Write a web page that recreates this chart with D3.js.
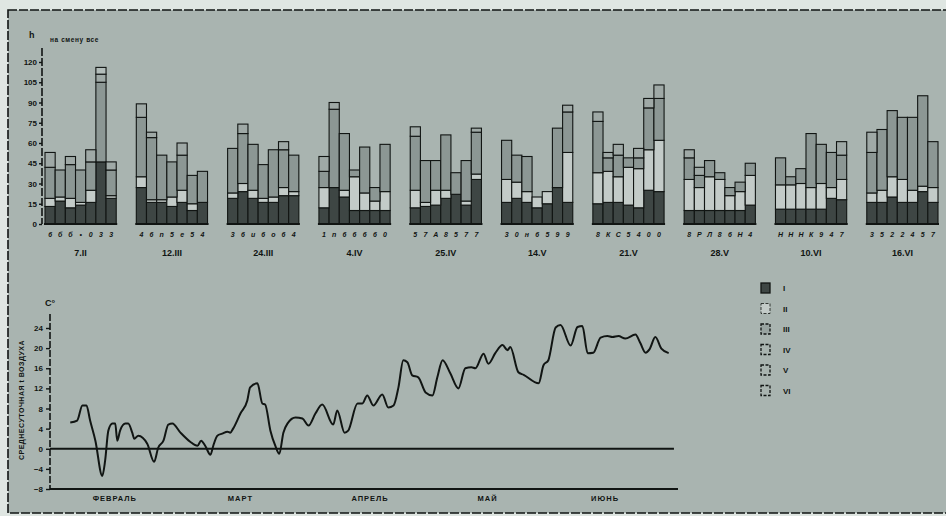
<!DOCTYPE html>
<html>
<head>
<meta charset="utf-8">
<script src="https://cdn.jsdelivr.net/npm/d3@7"></script>
<style>
  html, body { margin: 0; padding: 0; background: #dfe6e2; }
  svg { display: block; font-family: "Liberation Sans", "DejaVu Sans", sans-serif; }
</style>
</head>
<body>
<svg id="chart" width="946" height="516"></svg>
<script>
// Survey dates (one group of seven bars each)
const groups = ["7.II", "12.III", "24.III", "4.IV", "25.IV", "14.V", "21.V", "28.V", "10.VI", "16.VI"];
// Bar markers printed under each group
const barMarks = [
  ["6","б","б","•","0","3","3"],
  ["4","6","n","5","e","5","4"],
  ["3","6","u","6","o","6","4"],
  ["1","n","6","6","6","6","0"],
  ["5","7","А","8","5","7","7"],
  ["3","0","н","6","5","9","9"],
  ["8","К","С","5","4","0","0"],
  ["8","Р","Л","8","6","Н","4"],
  ["Н","Н","Н","К","9","4","7"],
  ["3","5","2","2","4","5","7"]
];
// Stacked components per bar, by group
const seriesI = [
  [13,17,12,14,16,46,19],[27,16,16,13,16,10,16],[19,24,19,16,16,21,21],[12,27,20,10,10,10,10],
  [12,13,14,19,22,14,33],[16,19,16,12,15,27,16],[15,16,16,14,12,25,24],[10,10,10,10,10,10,14],
  [11,11,11,11,11,19,18],[16,16,20,16,16,24,16]
];
const seriesII = [
  [6,3,7,2,9,0,2],[8,2,2,7,9,5,0],[4,6,6,3,4,6,3],[15,0,5,25,13,7,14],
  [13,3,11,6,0,3,4],[17,12,8,8,9,0,37],[23,23,19,28,29,30,38],[23,17,25,23,11,14,22],
  [18,18,19,16,19,8,15],[7,9,15,17,9,4,11]
];
const seriesIII = [
  [23,20,25,24,21,59,19],[44,46,33,26,26,21,23],[33,37,34,25,35,28,27],[12,58,42,5,34,10,35],
  [40,31,22,41,16,30,31],[29,20,26,0,0,44,30],[38,10,16,7,8,31,31],[16,9,12,5,6,7,9],
  [20,6,11,40,29,26,18],[30,45,49,46,54,67,34]
];
const seriesIV = [
  [11,0,6,0,9,6,6],[10,4,0,0,9,0,0],[0,7,0,0,0,6,0],[11,5,0,0,0,0,0],
  [7,0,0,0,0,0,3],[0,0,0,0,0,0,5],[7,4,8,0,7,7,10],[6,6,0,0,0,0,0],
  [0,0,0,0,0,0,10],[15,0,0,0,0,0,0]
];
const seriesV = [
  [0,0,0,0,0,5,0],[0,0,0,0,0,0,0],[0,0,0,0,0,0,0],[0,0,0,0,0,0,0],
  [0,0,0,0,0,0,0],[0,0,0,0,0,0,0],[0,0,0,0,0,0,0],[0,0,0,0,0,0,0],
  [0,0,0,0,0,0,0],[0,0,0,0,0,0,0]
];
const seriesVI = [
  [0,0,0,0,0,0,0],[0,0,0,0,0,0,0],[0,0,0,0,0,0,0],[0,0,0,0,0,0,0],
  [0,0,0,0,0,0,0],[0,0,0,0,0,0,0],[0,0,0,0,0,0,0],[0,0,0,0,0,0,0],
  [0,0,0,0,0,0,0],[0,0,0,0,0,0,0]
];
const seriesKeys = ["I", "II", "III", "IV", "V", "VI"];
const barTicks = [0, 15, 30, 45, 60, 75, 90, 105, 120];

// Daily mean air temperature, day 0 = 1 February
const tempDays = [0,1.7,3,4,4.9,6.2,7.9,8.6,9.4,10.4,11.1,11.6,12.3,13.6,14.3,15.3,15.8,16.8,19,20.7,21.7,23,24.2,25.2,27.2,29.6,31.4,32.3,33.3,34.6,35.3,36.3,37.5,38.8,39.5,40.2,42,43.7,44.4,46.2,47.4,48.1,49.4,50.6,51.6,52.6,53.6,55.6,57.3,58.8,60.5,62.2,64.9,65.9,67.7,68.6,70.9,72.1,73.3,74.8,77,78.5,79.8,81,82.2,83.2,84.4,85.9,87.7,89.4,90.6,91.9,93.8,95.8,97.5,99,100,102,103.2,104.9,106.7,107.9,108.6,110.6,111.9,115.6,116.8,118,119.8,121,123.5,125.2,126.4,127.7,129.1,130.9,132.6,133.8,135.3,137,139.5,140.7,142,143,144.4,145.9,147.7];
const tempValues = [5.2,5.6,8.6,8.6,5.6,1.6,-5.4,-2.4,3.6,5.0,5.0,1.6,3.6,5.0,5.0,3.2,2.0,2.6,1.0,-2.6,0.2,1.6,4.8,5.0,3.2,1.4,0.6,1.6,0.6,-1.2,0.6,2.6,3.0,3.4,3.2,4.0,7.0,9.6,12.2,13.0,9.0,8.8,3.6,0.6,-1.0,3.2,5.0,6.2,6.0,4.6,7.0,8.8,4.8,7.6,3.2,3.6,9.0,9.0,10.6,8.6,10.8,8.2,8.6,12.2,17.6,17.2,14.6,14.2,11.2,10.6,14.2,17.6,15.0,12.0,16.0,16.2,16.0,18.9,16.9,19.0,20.6,19.6,20.2,15.2,14.7,13.0,16.6,17.6,24.1,24.6,20.5,24.2,24.4,19.0,19.1,22.1,22.4,22.2,22.4,21.9,22.7,21.0,19.1,19.8,22.2,19.9,19.0];
const tempTicks = [-8, -4, 0, 4, 8, 12, 16, 20, 24];
const months = ["ФЕВРАЛЬ", "МАРТ", "АПРЕЛЬ", "МАЙ", "ИЮНЬ"];
const monthMidDays = [11, 42, 74, 103, 132];

const colors = { I: "#3e4644", II: "#c3cbc8", III: "#8c9794", IV: "#9fa9a6", V: "#b3bdba", VI: "#cbd2cf" };
const ink = "#111513";

const svg = d3.select("#chart");

// paper and framed panel
svg.append("rect").attr("x", 0).attr("y", 0).attr("width", 946).attr("height", 516).attr("fill", "#dfe6e2");
svg.append("rect").attr("x", 8).attr("y", 10).attr("width", 942).attr("height", 503)
  .attr("fill", "#a9b4b0").attr("stroke", ink).attr("stroke-width", 1.6).attr("stroke-dasharray", "9,2");

// ---------- stacked bar groups ----------
const rows = [];
groups.forEach((g, gi) => {
  for (let b = 0; b < 7; b++) {
    rows.push({
      group: g, bar: b, mark: barMarks[gi][b],
      I: seriesI[gi][b], II: seriesII[gi][b], III: seriesIII[gi][b],
      IV: seriesIV[gi][b], V: seriesV[gi][b], VI: seriesVI[gi][b]
    });
  }
});

const xGroup = d3.scaleBand().domain(groups).range([45, 938]).paddingInner(0.22).paddingOuter(0);
const xBar = d3.scaleBand().domain(d3.range(7)).range([0, xGroup.bandwidth()]).padding(0);
const yBar = d3.scaleLinear().domain([0, 120]).range([224, 62]);

const stacked = d3.stack().keys(seriesKeys)(rows);

const barLayer = svg.append("g");
stacked.forEach(layer => {
  barLayer.append("g").selectAll("rect")
    .data(layer.filter(d => d[1] > d[0]))
    .join("rect")
    .attr("x", d => xGroup(d.data.group) + xBar(d.data.bar))
    .attr("width", xBar.bandwidth())
    .attr("y", d => yBar(d[1]))
    .attr("height", d => yBar(d[0]) - yBar(d[1]))
    .attr("fill", colors[layer.key])
    .attr("stroke", ink)
    .attr("stroke-width", 1.1);
});

// group baselines, markers and dates
groups.forEach(g => {
  const x0 = xGroup(g);
  svg.append("line").attr("x1", x0 - 1).attr("x2", x0 + xGroup.bandwidth() + 1)
    .attr("y1", yBar(0)).attr("y2", yBar(0)).attr("stroke", ink).attr("stroke-width", 2.2);
  svg.append("text").attr("x", x0 + xGroup.bandwidth() / 2).attr("y", 256)
    .attr("text-anchor", "middle").attr("font-size", 9).attr("font-weight", "bold")
    .attr("fill", ink).text(g);
});
svg.append("g").selectAll("text").data(rows).join("text")
  .attr("x", d => xGroup(d.group) + xBar(d.bar) + xBar.bandwidth() / 2)
  .attr("y", 237)
  .attr("text-anchor", "middle").attr("font-size", 7).attr("font-weight", "bold")
  .attr("font-style", "italic").attr("fill", ink)
  .text(d => d.mark);

// bar value axis
const barAxis = d3.axisLeft(yBar).tickValues(barTicks).tickSize(3).tickPadding(2);
const gBarAxis = svg.append("g").attr("transform", "translate(42,0)").call(barAxis);
gBarAxis.select(".domain").remove();
gBarAxis.selectAll("line").attr("stroke", ink).attr("stroke-width", 1.4);
gBarAxis.selectAll("text").attr("font-size", 8).attr("font-weight", "bold").attr("fill", ink)
  .attr("font-family", "Liberation Sans, sans-serif");
svg.append("line").attr("x1", 42).attr("x2", 42).attr("y1", 48).attr("y2", 224)
  .attr("stroke", ink).attr("stroke-width", 1.6).attr("stroke-dasharray", "8,2");
svg.append("text").attr("x", 29).attr("y", 38).attr("font-size", 9).attr("font-weight", "bold")
  .attr("fill", ink).text("h");
svg.append("text").attr("x", 50).attr("y", 42).attr("font-size", 6.5).attr("font-weight", "bold")
  .attr("fill", ink).attr("letter-spacing", 0.6).text("на смену все");

// ---------- temperature curve ----------
const xDay = d3.scaleLinear().domain([-5, 150]).range([50, 678]);
const yTemp = d3.scaleLinear().domain([-8, 24]).range([489, 328]);

const tempAxis = d3.axisLeft(yTemp).tickValues(tempTicks).tickSize(4).tickPadding(3);
const gTempAxis = svg.append("g").attr("transform", "translate(50,0)").call(tempAxis);
gTempAxis.select(".domain").remove();
gTempAxis.selectAll("line").attr("stroke", ink).attr("stroke-width", 1.4);
gTempAxis.selectAll("text").attr("font-size", 8).attr("font-weight", "bold").attr("fill", ink)
  .attr("font-family", "Liberation Sans, sans-serif");
svg.append("line").attr("x1", 50).attr("x2", 50).attr("y1", 314).attr("y2", yTemp(-8))
  .attr("stroke", ink).attr("stroke-width", 1.6).attr("stroke-dasharray", "7,2");
svg.append("line").attr("x1", 50).attr("x2", xDay(150)).attr("y1", yTemp(-8)).attr("y2", yTemp(-8))
  .attr("stroke", ink).attr("stroke-width", 2);
svg.append("line").attr("x1", 50).attr("x2", xDay(149)).attr("y1", yTemp(0)).attr("y2", yTemp(0))
  .attr("stroke", ink).attr("stroke-width", 1.8);

svg.append("text").attr("x", 45).attr("y", 306).attr("font-size", 9).attr("font-weight", "bold")
  .attr("fill", ink).text("C°");
svg.append("text").attr("transform", "translate(24,400) rotate(-90)")
  .attr("text-anchor", "middle").attr("font-size", 7).attr("font-weight", "bold")
  .attr("letter-spacing", 0.5).attr("fill", ink).text("СРЕДНЕСУТОЧНАЯ t ВОЗДУХА");

svg.append("g").selectAll("text").data(months).join("text")
  .attr("x", (d, i) => xDay(monthMidDays[i])).attr("y", 501)
  .attr("text-anchor", "middle").attr("font-size", 7.5).attr("font-weight", "bold")
  .attr("letter-spacing", 1).attr("fill", ink).text(d => d);

const tempLine = d3.line()
  .x((d, i) => xDay(tempDays[i]))
  .y(d => yTemp(d))
  .curve(d3.curveMonotoneX);
svg.append("path").datum(tempValues).attr("d", tempLine)
  .attr("fill", "none").attr("stroke", ink).attr("stroke-width", 2).attr("stroke-linejoin", "round");

// ---------- legend ----------
const legend = svg.append("g").attr("transform", "translate(761,283)");
const legendFill = { I: colors.I, II: "#c3cbc8", III: "#98a3a0", IV: "#a9b4b0", V: "#a9b4b0", VI: "#a9b4b0" };
seriesKeys.forEach((k, i) => {
  const row = legend.append("g").attr("transform", `translate(0,${i * 20.5})`);
  row.append("rect").attr("width", 9).attr("height", 10)
    .attr("fill", legendFill[k]).attr("stroke", ink).attr("stroke-width", k === "II" ? 0.8 : 1.3)
    .attr("stroke-dasharray", k === "I" ? null : "3,1.5");
  row.append("text").attr("x", 22).attr("y", 8).attr("font-size", 8).attr("font-weight", "bold")
    .attr("fill", ink).text(k);
});
</script>
</body>
</html>
